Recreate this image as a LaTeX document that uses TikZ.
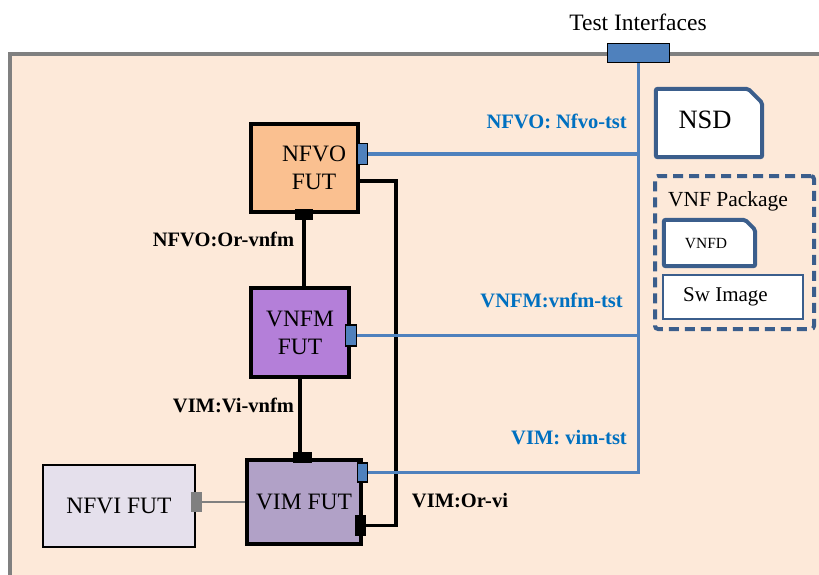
\documentclass[tikz,border=0pt]{standalone}
\usepackage{fontspec}
\setmainfont{Liberation Serif}
\usetikzlibrary{calc}
\definecolor{peach}{HTML}{FDE9D9}
\definecolor{framegray}{HTML}{808080}
\definecolor{portblue}{HTML}{4F81BD}
\definecolor{labblue}{HTML}{0070C0}
\definecolor{nfvofill}{HTML}{FAC090}
\definecolor{vnfmfill}{HTML}{B47FD9}
\definecolor{vimfill}{HTML}{B1A1C7}
\definecolor{nfvifill}{HTML}{E5E0EC}
\definecolor{docblue}{HTML}{3B5E8C}
\tikzset{
  fut/.style={draw=black, line width=3.5pt, align=center, inner sep=0pt,
    font=\fontsize{23.5}{28}\selectfont},
  tport/.style={draw=black, fill=portblue, line width=1.2pt, inner sep=0pt},
  bport/.style={fill=black, inner sep=0pt},
  gport/.style={fill=framegray, inner sep=0pt},
  bus/.style={draw=portblue, line width=3.6pt},
  link/.style={draw=black, line width=3.8pt},
  glink/.style={draw=framegray, line width=1.5pt},
  blab/.style={text=labblue, font=\fontsize{20.5}{24}\selectfont\bfseries, inner sep=0pt},
  klab/.style={text=black, font=\fontsize{20.5}{24}\selectfont\bfseries, inner sep=0pt},
  plain/.style={inner sep=0pt, font=\fontsize{21.5}{26}\selectfont},
  docbox/.style={inner sep=0pt},
  docline/.style={draw=docblue, line width=4pt, fill=white, rounded corners=2pt},
}
\begin{document}
\begin{tikzpicture}[x=1pt,y=-1pt]
\useasboundingbox (0,0) rectangle (819,575);
% frame
\fill[peach] (10,54) rectangle (830,585);
\draw[framegray, line width=4pt] (10,585) -- (10,54) -- (830,54);

% test interface
\node[plain, font=\fontsize{23.5}{27}\selectfont] (testlab) at (638,22) {Test Interfaces};
\node[tport, line width=1.5pt, minimum width=62pt, minimum height=19pt] (testT) at (638.5,53) {};

% FUT boxes
\node[fut, fill=nfvofill, minimum width=107pt, minimum height=88pt] (nfvo) at (304.5,168) {\hspace*{19pt}NFVO\\\hspace*{19pt}FUT};
\node[fut, fill=vnfmfill, minimum width=98pt, minimum height=89pt] (vnfm) at (300,332.5) {VNFM\\FUT};
\node[fut, fill=vimfill, minimum width=114pt, minimum height=84pt] (vim) at (304,502) {VIM FUT};
\node[fut, fill=nfvifill, line width=2pt, minimum width=152pt, minimum height=82pt] (nfvi) at (119,506) {NFVI FUT};

% ports
\node[tport, minimum width=10pt, minimum height=21pt] (nfvoT) at (362.5,154) {};
\node[tport, minimum width=11pt, minimum height=21pt] (vnfmT) at (351,335.5) {};
\node[tport, minimum width=10pt, minimum height=19pt] (vimT) at (362.5,472.5) {};
\node[bport, minimum width=18pt, minimum height=11pt] (nfvoB) at (304,214.5) {};
\node[bport, minimum width=19pt, minimum height=11pt] (vimB) at (302.5,457.5) {};
\node[bport, minimum width=11pt, minimum height=21pt] (vimR) at (360.5,525.5) {};
\node[gport, minimum width=11pt, minimum height=20pt] (nfviP) at (196.5,502) {};

% black links
\draw[link] (nfvoB.south) -- (nfvoB.south |- vnfm.north);
\draw[link] (vnfm.south) -- (vnfm.south |- vimB.north);
\draw[link] ([yshift=-13pt]nfvo.east) -- ++(36,0) |- (vimR.east);
\draw[glink] (nfviP.east) -- (vim.west);

% test bus
\draw[bus] (testT.south) -- (testT.south |- vimT.east) -- (vimT.east);
\draw[bus] (nfvoT.east) -- (nfvoT.east -| testT.south);
\draw[bus] (vnfmT.east) -- (vnfmT.east -| testT.south);
\node[tport, line width=1.5pt, minimum width=62pt, minimum height=19pt] at (testT) {};

% labels
\node[blab, anchor=east] (l1) at (627,121) {NFVO: Nfvo-tst};
\node[blab, anchor=east] (l2) at (623,300) {VNFM:vnfm-tst};
\node[blab, anchor=east] (l3) at (627,438) {VIM: vim-tst};
\node[klab] (l4) at (223.5,239) {NFVO:Or-vnfm};
\node[klab] (l5) at (233.5,405) {VIM:Vi-vnfm};
\node[klab] (l6) at (460,501) {VIM:Or-vi};

% NSD
\node[docbox, minimum width=106pt, minimum height=68pt] (nsd) at (709,123) {};
\draw[docline] (nsd.north west) -- ([xshift=-14pt]nsd.north east) -- ([yshift=-14pt]nsd.north east) -- (nsd.south east) -- (nsd.south west) -- cycle;
\node[plain, font=\fontsize{26.5}{30}\selectfont] (nsdt) at (705,120) {NSD};

% VNF package
\node[draw=docblue, line width=4pt, dash pattern=on 10pt off 6pt, rounded corners=3pt,
  minimum width=159pt, minimum height=153pt, inner sep=0pt] (pkg) at (734.5,252.5) {};
\node[plain] (pkgt) at (728,201) {VNF Package};
\node[docbox, minimum width=91pt, minimum height=46pt] (vnfd) at (709.5,243) {};
\draw[docline] (vnfd.north west) -- ([xshift=-10pt]vnfd.north east) -- ([yshift=-10pt]vnfd.north east) -- (vnfd.south east) -- (vnfd.south west) -- cycle;
\node[plain, font=\fontsize{15.5}{18}\selectfont] (vnfdt) at (706,244) {VNFD};
\node[draw=docblue, fill=white, line width=2pt, minimum width=140pt, minimum height=44pt, inner sep=0pt] (sw) at (733,297) {};
\node[plain, font=\fontsize{21}{25}\selectfont] (swt) at (725.5,297) {Sw Image};
\end{tikzpicture}
\end{document}
